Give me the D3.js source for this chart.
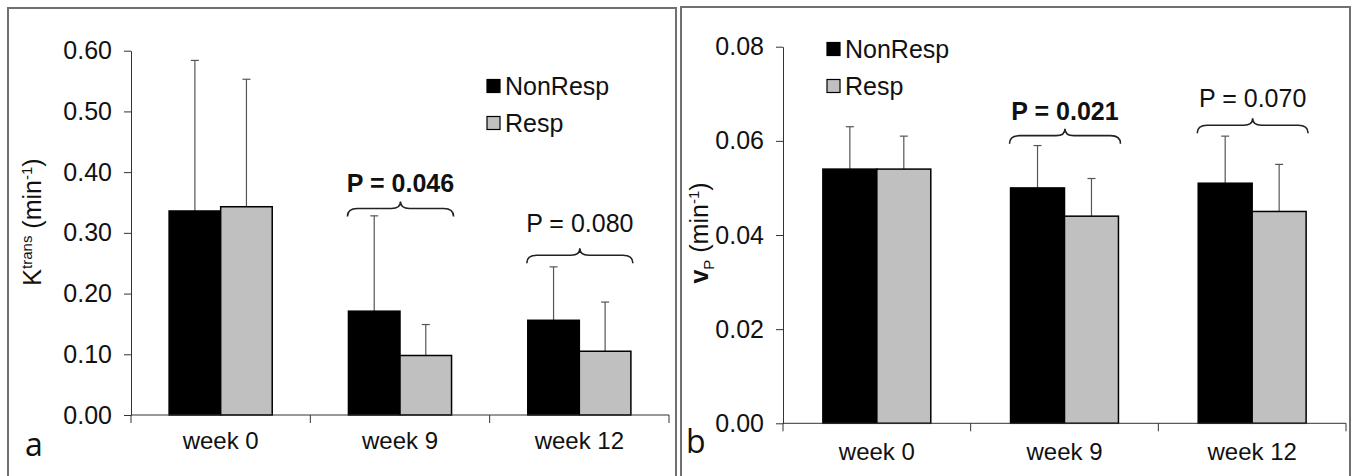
<!DOCTYPE html>
<html>
<head>
<meta charset="utf-8">
<script src="https://cdn.jsdelivr.net/npm/d3@7"></script>
<style>
  body { margin: 0; background: #fff; }
  svg { display: block; font-family: "Liberation Sans", Arial, sans-serif; }
</style>
</head>
<body>
<svg id="chart" width="1357" height="476"></svg>
<script>
// categories and groups
const weeks = ["week 0", "week 9", "week 12"];
const groups = ["NonResp", "Resp"];

// panel a: Ktrans (min-1), mean and SD
const ktransNonResp = [0.336, 0.171, 0.156];
const ktransResp = [0.343, 0.098, 0.105];
const ktransNonRespSD = [0.248, 0.157, 0.088];
const ktransRespSD = [0.210, 0.051, 0.081];
const ktransTicks = [0, 0.1, 0.2, 0.3, 0.4, 0.5, 0.6];
const ktransP = [null, "P = 0.046", "P = 0.080"];
const ktransBraceY = [null, 0.327, 0.250];
const ktransTextY = [null, 0.382, 0.317];

// panel b: vp (min-1), mean and SD
const vpNonResp = [0.054, 0.050, 0.051];
const vpResp = [0.054, 0.044, 0.045];
const vpNonRespSD = [0.009, 0.009, 0.010];
const vpRespSD = [0.007, 0.008, 0.010];
const vpTicks = [0, 0.02, 0.04, 0.06, 0.08];
const vpP = [null, "P = 0.021", "P = 0.070"];
const vpBraceY = [null, 0.0594, 0.0616];
const vpTextY = [null, 0.0663, 0.0692];

const boldP = [false, true, false];
const colors = { NonResp: "#000000", Resp: "#c0c0c0" };

const svg = d3.select("#chart");

// outer frames of both panels
svg.append("rect").attr("x", 8).attr("y", 8).attr("width", 668).attr("height", 480)
    .attr("fill", "none").attr("stroke", "#707070").attr("stroke-width", 2);
svg.append("rect").attr("x", 681).attr("y", 7).attr("width", 669).attr("height", 480)
    .attr("fill", "none").attr("stroke", "#707070").attr("stroke-width", 2);

function drawPanel(cfg) {
    const g = svg.append("g");

    const x = d3.scaleBand()
        .domain(weeks)
        .range([cfg.left, cfg.right]);

    const inner = d3.scaleBand()
        .domain(groups)
        .range([0, x.bandwidth() * 0.575]);
    const off = (x.bandwidth() - x.bandwidth() * 0.575) / 2;

    const y = d3.scaleLinear()
        .domain([0, d3.max(cfg.ticks)])
        .range([cfg.bottom, cfg.top]);

    const rows = weeks.flatMap((w, i) => [
        { week: w, group: "NonResp", v: cfg.nonResp[i], sd: cfg.nonRespSD[i] },
        { week: w, group: "Resp", v: cfg.resp[i], sd: cfg.respSD[i] }
    ]);
    const bx = d => x(d.week) + off + inner(d.group);

    // error bars (upper only, drawn behind bars)
    const err = g.append("g").attr("stroke", "#555").attr("stroke-width", 1.2);
    err.selectAll("line.v")
        .data(rows).enter().append("line")
        .attr("x1", d => bx(d) + inner.bandwidth() / 2)
        .attr("x2", d => bx(d) + inner.bandwidth() / 2)
        .attr("y1", d => y(d.v))
        .attr("y2", d => y(d.v + d.sd));
    err.selectAll("line.c")
        .data(rows).enter().append("line")
        .attr("x1", d => bx(d) + inner.bandwidth() / 2 - 4)
        .attr("x2", d => bx(d) + inner.bandwidth() / 2 + 4)
        .attr("y1", d => y(d.v + d.sd))
        .attr("y2", d => y(d.v + d.sd));

    // bars
    g.selectAll("rect.bar")
        .data(rows).enter().append("rect")
        .attr("x", d => bx(d))
        .attr("y", d => y(d.v))
        .attr("width", inner.bandwidth())
        .attr("height", d => y(0) - y(d.v))
        .attr("fill", d => colors[d.group])
        .attr("stroke", "#000")
        .attr("stroke-width", 1.5);

    // y axis
    const yAxis = g.append("g")
        .attr("transform", `translate(${cfg.left},0)`)
        .call(d3.axisLeft(y).tickValues(cfg.ticks).tickFormat(cfg.fmt).tickSizeInner(7).tickSizeOuter(0).tickPadding(12));
    yAxis.select(".domain").attr("stroke", "#333");
    yAxis.selectAll(".tick line").attr("stroke", "#333");
    yAxis.selectAll("text").attr("font-size", 25).attr("fill", "#111")
        .attr("font-family", "'Liberation Sans', Arial, sans-serif");

    // x axis: ticks at band boundaries
    const xAxis = g.append("g").attr("transform", `translate(0,${cfg.bottom})`);
    xAxis.append("line").attr("x1", cfg.left).attr("x2", cfg.right)
        .attr("stroke", "#333");
    const bounds = weeks.map(w => x(w)).concat([cfg.right]);
    xAxis.selectAll("line.t").data(bounds).enter().append("line")
        .attr("x1", d => d).attr("x2", d => d)
        .attr("y1", 0).attr("y2", 8).attr("stroke", "#333");
    xAxis.selectAll("text.wk").data(weeks).enter().append("text")
        .attr("class", "wk")
        .attr("x", d => x(d) + x.bandwidth() / 2)
        .attr("y", cfg.labelDy)
        .attr("text-anchor", "middle")
        .attr("font-size", 24).attr("fill", "#111")
        .text(d => d);

    // braces with P values
    weeks.forEach((w, i) => {
        if (!cfg.p[i]) return;
        const x1 = x(w) + off - 1;
        const x2 = x(w) + off + x.bandwidth() * 0.575 + 2;
        const xm = (x1 + x2) / 2;
        const yEnd = y(cfg.braceY[i]);
        const yBody = yEnd - 8;
        const yPeak = yEnd - 15;
        const p = d3.path();
        p.moveTo(x1, yEnd);
        p.quadraticCurveTo(x1, yBody, x1 + 10, yBody);
        p.lineTo(xm - 9, yBody);
        p.quadraticCurveTo(xm, yBody, xm, yPeak);
        p.quadraticCurveTo(xm, yBody, xm + 9, yBody);
        p.lineTo(x2 - 10, yBody);
        p.quadraticCurveTo(x2, yBody, x2, yEnd);
        g.append("path").attr("d", p.toString())
            .attr("fill", "none").attr("stroke", "#222").attr("stroke-width", 1.6);
        g.append("text")
            .attr("x", xm)
            .attr("y", y(cfg.textY[i]))
            .attr("dy", "0.36em")
            .attr("text-anchor", "middle")
            .attr("font-size", 25)
            .attr("font-weight", boldP[i] ? "bold" : "normal")
            .attr("fill", "#111")
            .text(cfg.p[i]);
    });

    // legend
    const leg = g.append("g");
    groups.forEach((grp, i) => {
        const ly = cfg.legY + i * 37;
        leg.append("rect")
            .attr("x", cfg.legX).attr("y", ly - 6.5)
            .attr("width", 13).attr("height", 13)
            .attr("fill", colors[grp]).attr("stroke", "#000").attr("stroke-width", 1.2);
        leg.append("text")
            .attr("x", cfg.legX + 18).attr("y", ly)
            .attr("dy", "0.36em")
            .attr("font-size", 25).attr("fill", "#111")
            .text(grp);
    });

    // panel letter
    g.append("text")
        .attr("x", cfg.letterX).attr("y", cfg.letterY)
        .attr("font-family", "'Open Sans', sans-serif")
        .attr("font-size", 32).attr("fill", "#111")
        .text(cfg.letter);

    return { g, y };
}

// panel a
const a = drawPanel({
    left: 131, right: 669, top: 50.7, bottom: 415,
    ticks: ktransTicks, fmt: d3.format(".2f"),
    nonResp: ktransNonResp, resp: ktransResp,
    nonRespSD: ktransNonRespSD, respSD: ktransRespSD,
    p: ktransP, braceY: ktransBraceY, textY: ktransTextY,
    labelDy: 34, legX: 487, legY: 86,
    letter: "a", letterX: 25, letterY: 456
});
const ka = a.g.append("text")
    .attr("transform", "translate(41,222) rotate(-90)")
    .attr("text-anchor", "middle")
    .attr("font-size", 25).attr("fill", "#111");
ka.append("tspan").text("K");
ka.append("tspan").attr("font-size", 15).attr("dy", -9).text("trans");
ka.append("tspan").attr("dy", 9).text(" (min");
ka.append("tspan").attr("font-size", 15).attr("dy", -9).text("-1");
ka.append("tspan").attr("dy", 9).text(")");

// panel b
const b = drawPanel({
    left: 783, right: 1346, top: 46.7, bottom: 423.3,
    ticks: vpTicks, fmt: d3.format(".2f"),
    nonResp: vpNonResp, resp: vpResp,
    nonRespSD: vpNonRespSD, respSD: vpRespSD,
    p: vpP, braceY: vpBraceY, textY: vpTextY,
    labelDy: 37, legX: 827, legY: 49,
    letter: "b", letterX: 686, letterY: 453
});
const vb = b.g.append("text")
    .attr("transform", "translate(708,233) rotate(-90)")
    .attr("text-anchor", "middle")
    .attr("font-size", 25).attr("fill", "#111");
vb.append("tspan").attr("font-weight", "bold").text("v");
vb.append("tspan").attr("font-size", 15).attr("dy", 6).text("P");
vb.append("tspan").attr("dy", -6).text(" (min");
vb.append("tspan").attr("font-size", 15).attr("dy", -9).text("-1");
vb.append("tspan").attr("dy", 9).text(")");
</script>
</body>
</html>
